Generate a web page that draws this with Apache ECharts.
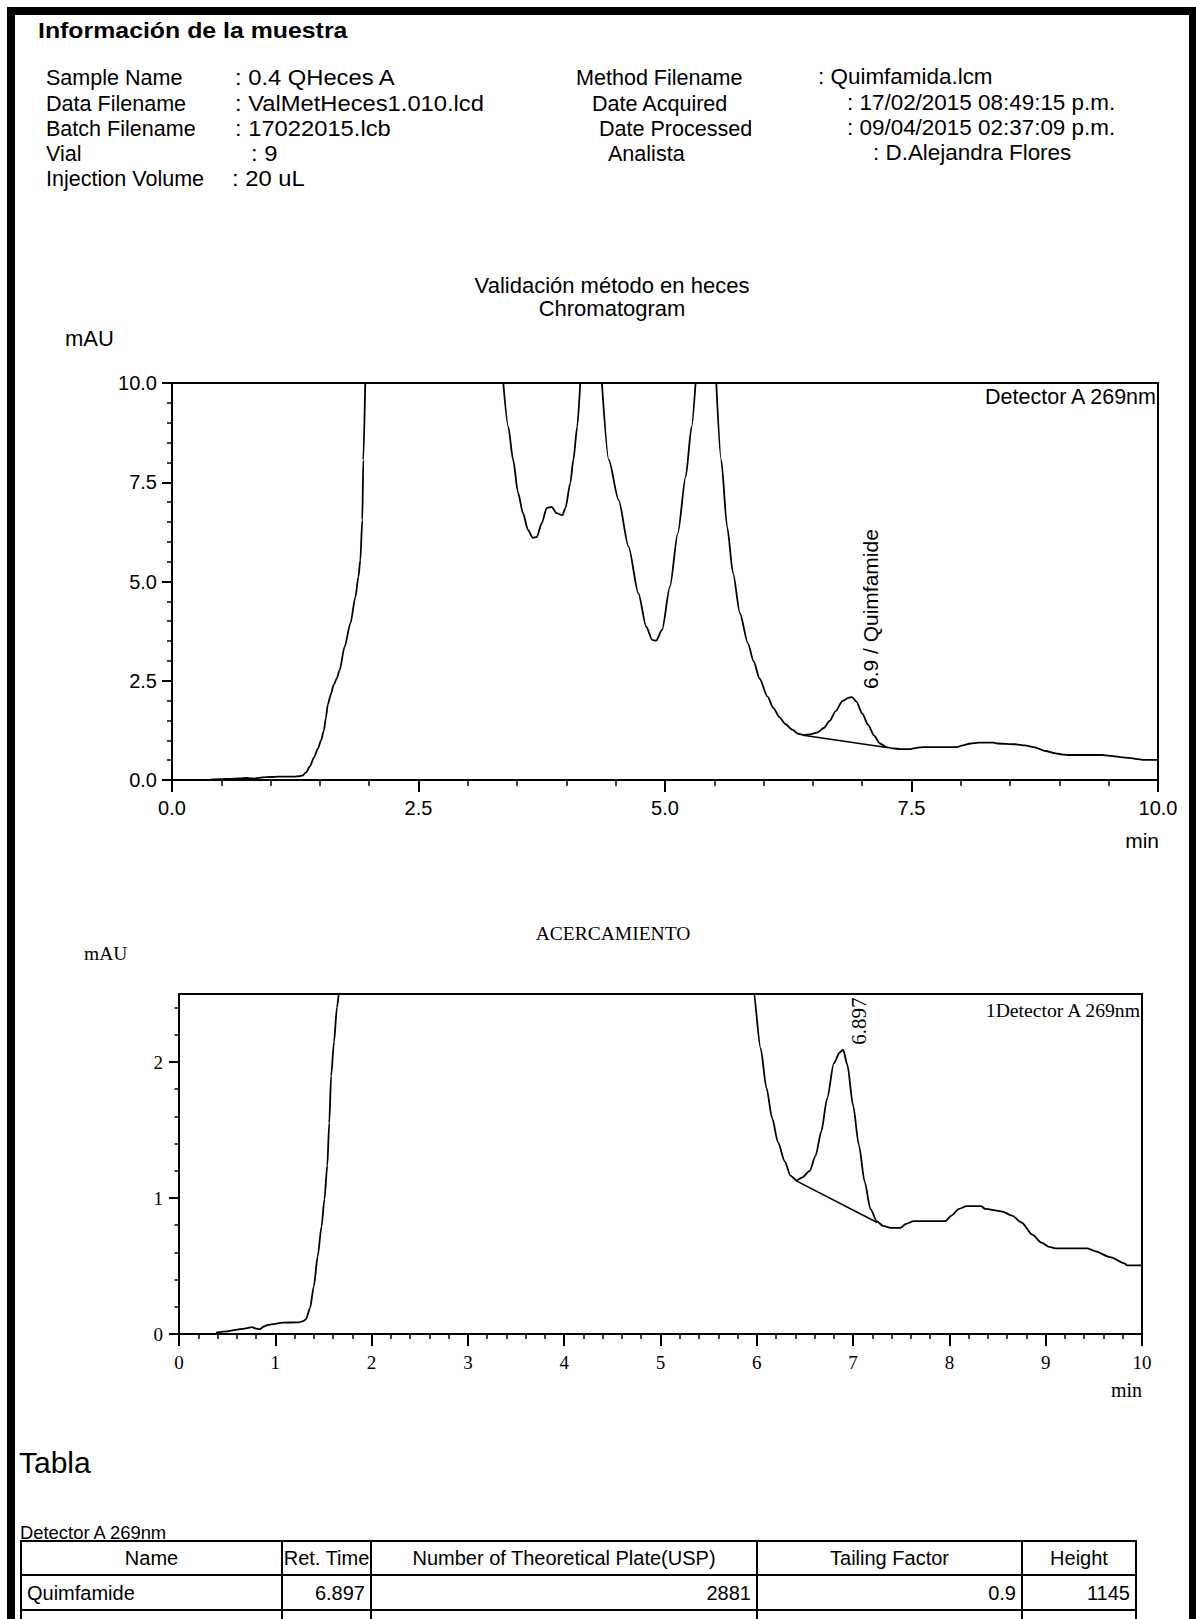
<!DOCTYPE html>
<html>
<head>
<meta charset="utf-8">
<title>Información de la muestra</title>
<script src="https://cdn.jsdelivr.net/npm/echarts@6/dist/echarts.min.js"></script>
<style>
  html, body { margin: 0; padding: 0; background: #fff; }
  #page { width: 1196px; height: 1619px; }
</style>
</head>
<body>
<div id="page"></div>
<script>
// ---- Sample information ----
const reportTitle = 'Información de la muestra';
const infoLeftLabels = ['Sample Name', 'Data Filename', 'Batch Filename', 'Vial', 'Injection Volume'];
const infoLeftValues = [': 0.4 QHeces A', ': ValMetHeces1.010.lcd', ': 17022015.lcb', ': 9', ': 20 uL'];
const infoRightLabels = ['Method Filename', 'Date Acquired', 'Date Processed', 'Analista'];
const infoRightValues = [': Quimfamida.lcm', ': 17/02/2015 08:49:15 p.m.', ': 09/04/2015 02:37:09 p.m.', ': D.Alejandra Flores'];

// ---- Chromatogram, Detector A 269nm (time in min, signal in mAU) ----
// null marks the stretches where the signal is off scale (above 10 mAU)
const retentionTime = [
  0.385, 0.50, 0.585, 0.68, 0.76, 0.80, 0.84, 0.88, 0.92, 1.00,
  1.08, 1.24, 1.29, 1.32, 1.36, 1.40, 1.44, 1.48, 1.51, 1.54,
  1.56, 1.58, 1.61, 1.64, 1.67, 1.70, 1.75, 1.81, 1.86, 1.89,
  1.91, 1.93, 1.94, 1.96, 2.60,
  3.36, 3.41, 3.46, 3.51, 3.56, 3.61, 3.66, 3.70, 3.75, 3.80,
  3.85, 3.90, 3.96, 3.99, 4.04, 4.07, 4.11, 4.14, 4.25,
  4.36, 4.43, 4.53, 4.63, 4.73, 4.81, 4.87, 4.91, 4.97, 5.05,
  5.13, 5.21, 5.27, 5.31, 5.42,
  5.52, 5.57, 5.63, 5.69, 5.76, 5.84, 5.90, 5.96, 6.04, 6.10,
  6.16, 6.22, 6.29, 6.35, 6.41, 6.47, 6.55, 6.61, 6.67, 6.73,
  6.80, 6.86, 6.897, 6.94, 7.00, 7.06, 7.12, 7.18, 7.245, 7.31,
  7.39, 7.49, 7.55, 7.63, 7.96, 8.02, 8.10, 8.18, 8.33, 8.37,
  8.55, 8.65, 8.75, 8.86, 8.96, 9.04, 9.10, 9.43, 9.51, 9.67,
  9.82, 9.84, 10.0
];
const absorbance = [
  0.01, 0.02, 0.03, 0.04, 0.05, 0.04, 0.035, 0.055, 0.067, 0.075,
  0.084, 0.085, 0.095, 0.11, 0.19, 0.35, 0.57, 0.79, 0.99, 1.24,
  1.55, 1.90, 2.15, 2.40, 2.55, 2.77, 3.35, 3.95, 4.61, 5.11,
  5.54, 6.55, 8.06, 10.0, null,
  10.0, 8.90, 8.06, 7.23, 6.72, 6.30, 6.10, 6.12, 6.47, 6.85,
  6.88, 6.72, 6.67, 6.85, 7.48, 8.06, 8.90, 10.0, null,
  10.0, 8.06, 7.05, 5.88, 4.70, 3.86, 3.53, 3.51, 3.78, 4.87,
  6.22, 7.64, 8.90, 10.0, null,
  10.0, 8.06, 6.38, 5.21, 4.20, 3.45, 2.98, 2.55, 2.10, 1.81,
  1.585, 1.41, 1.27, 1.165, 1.13, 1.15, 1.20, 1.31, 1.49, 1.73,
  1.99, 2.07, 2.09, 1.98, 1.68, 1.39, 1.12, 0.92, 0.83, 0.795,
  0.78, 0.78, 0.81, 0.83, 0.83, 0.87, 0.92, 0.94, 0.94, 0.92,
  0.90, 0.87, 0.82, 0.73, 0.67, 0.64, 0.63, 0.63, 0.61, 0.565,
  0.52, 0.505, 0.505
];

// Integration baseline under the Quimfamide peak
const baselineTime = [6.40, 7.25];
const baselineAbs = [1.13, 0.82];

// Identified peak
const peakName = 'Quimfamide';
const peakRetTime = 6.897;
const peakApex = 2.09;

// Axis ticks
const mainXTicks = [0, 2.5, 5, 7.5, 10];
const mainYTicks = [0, 2.5, 5, 7.5, 10];
const zoomXTicks = [0, 1, 2, 3, 4, 5, 6, 7, 8, 9, 10];
const zoomYTicks = [0, 1, 2];
const zoomYMinorTicks = [0.2, 0.4, 0.6, 0.8, 1.2, 1.4, 1.6, 1.8, 2.2, 2.4];

// ---- Peak table ----
const tableDetector = 'Detector A 269nm';
const tableColumns = ['Name', 'Ret. Time', 'Number of Theoretical Plate(USP)', 'Tailing Factor', 'Height'];
const tableRows = [['Quimfamide', '6.897', '2881', '0.9', '1145']];

// ---------------------------------------------------------------------
const SANS = 'Liberation Sans, Arial, sans-serif';
const SERIF = 'Liberation Serif, Times New Roman, serif';

const trace = retentionTime.map((t, i) => [t, absorbance[i] === null ? '-' : absorbance[i]]);
const baseline = baselineTime.map((t, i) => [t, baselineAbs[i]]);

const chart = echarts.init(document.getElementById('page'), null, { renderer: 'svg', width: 1196, height: 1619 });

function axisCommon(font, size, major, minor) {
  return {
    axisLine: { show: true, onZero: false, lineStyle: { color: '#000', width: 2 } },
    axisTick: { show: true, inside: false, length: major, lineStyle: { color: '#000', width: 2 } },
    minorTick: { show: minor > 0, splitNumber: 5, length: minor, lineStyle: { color: '#000', width: 1.5 } },
    splitLine: { show: false },
    minorSplitLine: { show: false },
    axisLabel: { color: '#000', fontFamily: font, fontSize: size }
  };
}

function merge(a, b) {
  const out = Object.assign({}, a);
  Object.keys(b).forEach(k => {
    if (b[k] && typeof b[k] === 'object' && !Array.isArray(b[k]) && a[k]) out[k] = merge(a[k], b[k]);
    else out[k] = b[k];
  });
  return out;
}

const lineStyle = { color: '#000', width: 1.8 };

chart.setOption({
  animation: false,
  backgroundColor: '#fff',
  grid: [
    { left: 172, top: 383, width: 986, height: 397, show: true, borderColor: '#000', borderWidth: 2, backgroundColor: 'transparent' },
    { left: 179, top: 994, width: 963, height: 340, show: true, borderColor: '#000', borderWidth: 2, backgroundColor: 'transparent' }
  ],
  xAxis: [
    merge(axisCommon(SANS, 20, 12, 6), {
      type: 'value', gridIndex: 0, min: mainXTicks[0], max: mainXTicks[mainXTicks.length - 1], interval: 2.5,
      axisLabel: { margin: 18, formatter: v => v.toFixed(1) }
    }),
    merge(axisCommon(SERIF, 19, 12, 5), {
      type: 'value', gridIndex: 1, min: zoomXTicks[0], max: zoomXTicks[zoomXTicks.length - 1], interval: 1,
      axisLabel: { margin: 19, formatter: v => String(v) }
    })
  ],
  yAxis: [
    merge(axisCommon(SANS, 20, 10, 5), {
      type: 'value', gridIndex: 0, min: mainYTicks[0], max: mainYTicks[mainYTicks.length - 1], interval: 2.5,
      axisLabel: { margin: 15, formatter: v => v.toFixed(1) }
    }),
    merge(axisCommon(SERIF, 19, 10, 0), {
      type: 'value', gridIndex: 1, min: 0, max: 2.5, interval: 1,
      axisTick: { customValues: zoomYTicks },
      axisLabel: { margin: 16, customValues: zoomYTicks, formatter: v => String(v) }
    }),
    merge(axisCommon(SERIF, 19, 4.5, 0), {
      type: 'value', gridIndex: 1, min: 0, max: 2.5, interval: 1, position: 'left',
      axisLine: { show: false },
      axisTick: { customValues: zoomYMinorTicks, lineStyle: { width: 1.5 } },
      axisLabel: { show: false }
    })
  ],
  series: [
    { type: 'line', name: 'Detector A 269nm', xAxisIndex: 0, yAxisIndex: 0, data: trace, showSymbol: false, symbol: 'none',
      smooth: 0.25, smoothMonotone: 'x', connectNulls: false, clip: true, lineStyle: lineStyle, silent: true },
    { type: 'line', name: 'baseline', xAxisIndex: 0, yAxisIndex: 0, data: baseline, symbol: 'none', clip: true,
      lineStyle: { color: '#000', width: 1.5 }, silent: true },
    { type: 'line', name: '1Detector A 269nm', xAxisIndex: 1, yAxisIndex: 1, data: trace, showSymbol: false, symbol: 'none',
      smooth: 0.25, smoothMonotone: 'x', connectNulls: false, clip: true, lineStyle: lineStyle, silent: true },
    { type: 'line', name: 'baseline zoom', xAxisIndex: 1, yAxisIndex: 1, data: baseline, symbol: 'none', clip: true,
      lineStyle: { color: '#000', width: 1.5 }, silent: true }
  ]
});

// ---- Page furniture: frame, header, titles, peak labels, table ----
function txt(x, y, text, opt) {
  opt = opt || {};
  return {
    type: 'text', x: x, y: y, rotation: opt.rotation || 0,
    scaleX: opt.sx || 1, scaleY: opt.sy || 1, silent: true, z: 10,
    style: {
      text: text, fill: '#000',
      fontFamily: opt.font || SANS, fontSize: opt.size || 22, fontWeight: opt.weight || 'normal',
      align: opt.align || 'left', verticalAlign: opt.valign || 'middle'
    }
  };
}
function rect(x, y, w, h) {
  return { type: 'rect', shape: { x: x, y: y, width: w, height: h }, style: { fill: '#000' }, silent: true, z: 10 };
}
function hline(x1, x2, y) {
  return { type: 'line', shape: { x1: x1, y1: y, x2: x2, y2: y }, style: { stroke: '#000', lineWidth: 2 }, silent: true, z: 10 };
}
function vline(x, y1, y2) {
  return { type: 'line', shape: { x1: x, y1: y1, x2: x, y2: y2 }, style: { stroke: '#000', lineWidth: 2 }, silent: true, z: 10 };
}

const g = [];
// frame
g.push(rect(7, 7, 1189, 8));
g.push(rect(7, 7, 8, 1612));
g.push(rect(1189, 7, 7, 1612));

// header block
g.push(txt(38, 31, reportTitle, { size: 22, weight: 'bold', sx: 1.13 }));
const rowY = [77, 103, 128, 153, 178];
const leftValueX = [235, 235, 235, 251, 232];
infoLeftLabels.forEach((t, i) => {
  g.push(txt(46, rowY[i], t, { sx: 0.98 }));
  g.push(txt(leftValueX[i], rowY[i], infoLeftValues[i], { sx: 1.08 }));
});
const rightLabelX = [576, 592, 599, 608];
const rightValueX = [818, 847, 847, 873];
infoRightLabels.forEach((t, i) => {
  g.push(txt(rightLabelX[i], rowY[i], t, { sx: 0.98 }));
  g.push(txt(rightValueX[i], rowY[i], infoRightValues[i], { sx: 1.02 }));
});

// main chromatogram titles
g.push(txt(612, 285, 'Validación método en heces', { align: 'center', size: 22 }));
g.push(txt(612, 308, 'Chromatogram', { align: 'center', size: 22 }));
g.push(txt(65, 338, 'mAU', { size: 22 }));
g.push(txt(1159, 840, 'min', { align: 'right', size: 21 }));
g.push(txt(1156, 397, 'Detector A 269nm', { align: 'right', size: 21.5 }));

// zoomed chromatogram titles
g.push(txt(613, 933, 'ACERCAMIENTO', { align: 'center', font: SERIF, size: 19.5 }));
g.push(txt(84, 953, 'mAU', { font: SERIF, size: 19.5 }));
g.push(txt(1142, 1390, 'min', { align: 'right', font: SERIF, size: 20 }));
g.push(txt(1140, 1010, '1Detector A 269nm', { align: 'right', font: SERIF, size: 19.7 }));

// peak labels, placed at the apex through the axes
const pMain = chart.convertToPixel({ xAxisIndex: 0, yAxisIndex: 0 }, [peakRetTime, peakApex]);
const pZoom = chart.convertToPixel({ xAxisIndex: 1, yAxisIndex: 1 }, [peakRetTime, peakApex]);
g.push(txt(pMain[0] + 18, pMain[1] - 8, peakRetTime.toFixed(1) + ' / ' + peakName, { rotation: Math.PI / 2, size: 21 }));
g.push(txt(pZoom[0] + 16, pZoom[1] - 5, peakRetTime.toFixed(3), { rotation: Math.PI / 2, font: SERIF, size: 21 }));

// table
g.push(txt(19, 1462, 'Tabla', { size: 30 }));
g.push(txt(20, 1532, tableDetector, { size: 18.4 }));
const colX = [21, 282, 371, 757, 1022, 1136];
const rowLines = [1541, 1575, 1610];
const tableBottom = 1619;
rowLines.forEach(y => g.push(hline(colX[0] - 1, colX[colX.length - 1] + 1, y)));
colX.forEach(x => g.push(vline(x, rowLines[0], tableBottom)));
tableColumns.forEach((c, i) => {
  g.push(txt((colX[i] + colX[i + 1]) / 2, 1558, c, { align: 'center', size: 20 }));
});
tableRows.forEach((row, r) => {
  const yc = (rowLines[r + 1] + rowLines[r + 2]) / 2;
  row.forEach((v, i) => {
    if (i === 0) g.push(txt(colX[0] + 6, yc, v, { size: 20 }));
    else g.push(txt(colX[i + 1] - 6, yc, v, { align: 'right', size: 20 }));
  });
});

chart.setOption({ graphic: g });
</script>
</body>
</html>
